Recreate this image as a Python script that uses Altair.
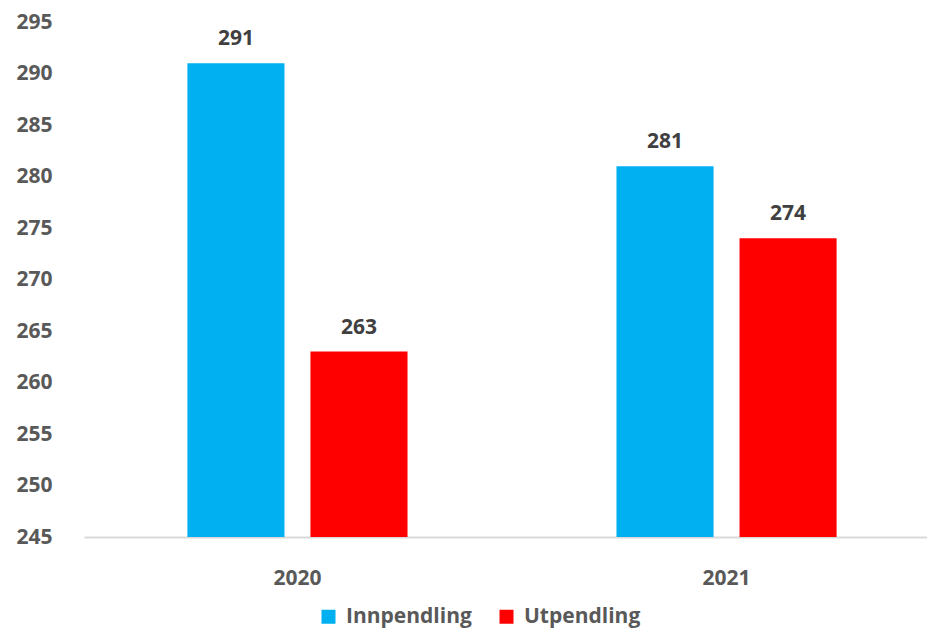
import altair as alt
import pandas as pd

years = ["2020", "2020", "2021", "2021"]
series = ["Innpendling", "Utpendling", "Innpendling", "Utpendling"]
values = [291, 263, 281, 274]
series_order = ["Innpendling", "Utpendling"]
colors = ["#00B0F0", "#FF0000"]
y_ticks = [245, 250, 255, 260, 265, 270, 275, 280, 285, 290, 295]

df = pd.DataFrame({"year": years, "series": series, "value": values})

FONT = "Open Sans"

x = alt.X("year:N", title=None,
          scale=alt.Scale(range=[0, 856], paddingInner=0.487, paddingOuter=0.241, align=0.5),
          axis=alt.Axis(labelAngle=0, labelFont=FONT, labelFontSize=21,
                        labelColor="#595959", labelFontWeight="bold",
                        ticks=False, domainColor="#D9D9D9", domainWidth=2,
                        labelPadding=30))
xo = alt.XOffset("series:N", sort=series_order,
                 scale=alt.Scale(paddingInner=0.211, paddingOuter=0))
y = alt.Y("value:Q", title=None,
          scale=alt.Scale(domain=[245, 295], zero=False, clamp=True, nice=False),
          axis=alt.Axis(values=y_ticks, grid=False, domain=False, ticks=False,
                        labelFont=FONT, labelFontSize=21, labelColor="#595959",
                        labelFontWeight="bold", labelPadding=32))

bars = alt.Chart(df).mark_bar().encode(
    x=x, xOffset=xo, y=y,
    color=alt.Color("series:N", sort=series_order,
                    scale=alt.Scale(domain=series_order, range=colors),
                    legend=alt.Legend(title=None, orient="none", direction="horizontal",
                                      legendX=234, legendY=584,
                                      symbolType="square", symbolSize=196,
                                      symbolStrokeWidth=0,
                                      labelFont=FONT, labelFontSize=21,
                                      labelColor="#595959", labelFontWeight="bold",
                                      labelOffset=7, columnPadding=24)),
)

labels = alt.Chart(df).mark_text(
    baseline="alphabetic", dy=-18, font=FONT, fontSize=21, fontWeight="bold",
    color="#404040"
).encode(
    x=alt.X("year:N"), xOffset=alt.XOffset("series:N", sort=series_order),
    y=alt.Y("value:Q"), text=alt.Text("value:Q"),
)

chart = alt.layer(bars, labels).properties(
    width=843, height=515,
    autosize=alt.AutoSizeParams(type="none"),
    padding={"left": 76, "top": 14, "right": 0, "bottom": 94},
).configure_view(stroke=None)

chart.save("out.html", embed_options={"renderer": "svg", "actions": False})
